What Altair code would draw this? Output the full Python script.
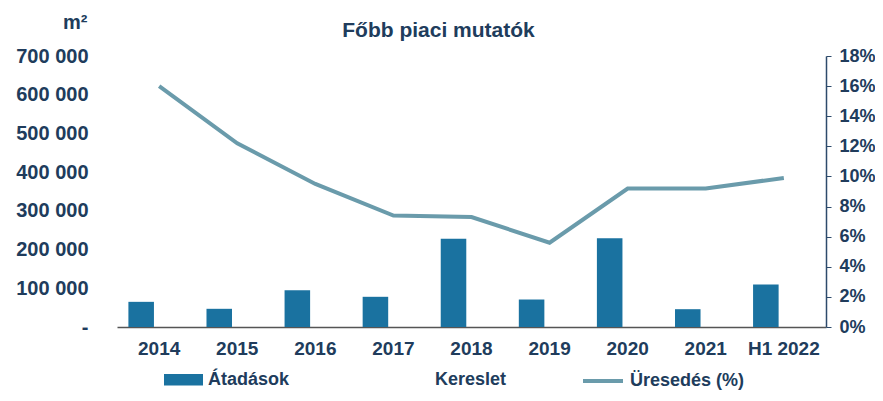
import altair as alt
import pandas as pd

years = ["2014", "2015", "2016", "2017", "2018", "2019", "2020", "2021", "H1 2022"]
atadasok = [65000, 47000, 95000, 78000, 228000, 71000, 229000, 46000, 110000]
ureseds = [16.0, 12.2, 9.5, 7.4, 7.3, 5.6, 9.2, 9.2, 9.9]
series = ["Átadások", "Kereslet"]
line_name = "Üresedés (%)"

NAVY = "#203c5c"
BAR = "#1a72a0"
LINE = "#6a9bab"
FONT = "Liberation Sans"

bar_rows = []
for y, v in zip(years, atadasok):
    bar_rows.append({"year": y, "series": "Átadások", "value": v})
    bar_rows.append({"year": y, "series": "Kereslet", "value": None})
bar_df = pd.DataFrame(bar_rows)
line_df = pd.DataFrame({"year": years, "vac": ureseds, "name": line_name})

x_enc = alt.X(
    "year:N",
    sort=years,
    scale=alt.Scale(paddingInner=0, paddingOuter=0.04),
    axis=alt.Axis(
        title=None, labelAngle=0, ticks=False, domain=True,
        domainColor="#555555", domainWidth=1.5,
        labelFont=FONT, labelFontSize=19, labelFontWeight="bold",
        labelColor=NAVY, labelPadding=12,
    ),
)

bars = alt.Chart(bar_df).mark_bar().encode(
    x=x_enc,
    xOffset=alt.XOffset(
        "series:N",
        scale=alt.Scale(domain=series, paddingInner=0.29, paddingOuter=0.23),
    ),
    y=alt.Y(
        "value:Q",
        scale=alt.Scale(domain=[0, 700000]),
        axis=alt.Axis(
            orient="left", values=[0, 100000, 200000, 300000, 400000, 500000, 600000, 700000],
            grid=False, ticks=False, domain=False,
            labelFont=FONT, labelFontSize=20, labelFontWeight="bold",
            labelColor=NAVY, labelPadding=29,
            labelExpr="datum.value == 0 ? '-\u00a0\u00a0\u00a0' : replace(format(datum.value, ','), regexp(',', 'g'), ' ')",
            title="m²", titleAngle=0, titleAlign="right", titleBaseline="bottom",
            titleX=-30, titleY=-24, titleFont=FONT, titleFontSize=20,
            titleFontWeight="bold", titleColor=NAVY,
        ),
    ),
    color=alt.Color(
        "series:N",
        scale=alt.Scale(domain=series, range=[BAR, "#ffffff"]),
        legend=alt.Legend(
            title=None, orient="none", legendX=47, legendY=304,
            direction="horizontal",
            symbolType="M-1,-0.3L1,-0.3L1,0.3L-1,0.3Z", symbolSize=1521,
            symbolStrokeWidth=0, labelOffset=5, columnPadding=101,
            labelFont=FONT, labelFontSize=18, labelFontWeight="bold",
            labelColor=NAVY,
        ),
    ),
)

line = alt.Chart(line_df).mark_line(strokeWidth=4).encode(
    x=alt.X("year:N", sort=years),
    y=alt.Y(
        "vac:Q",
        scale=alt.Scale(domain=[0, 18]),
        axis=alt.Axis(
            orient="right", values=[0, 2, 4, 6, 8, 10, 12, 14, 16, 18],
            grid=False, ticks=True, tickSize=5, tickColor="#2d4a6b",
            domain=True, domainColor="#2d4a6b", domainWidth=1.5,
            labelFont=FONT, labelFontSize=18, labelFontWeight="bold",
            labelColor=NAVY, labelPadding=8,
            labelExpr="datum.value + '%'", title=None,
        ),
    ),
    stroke=alt.Stroke(
        "name:N",
        scale=alt.Scale(domain=[line_name], range=[LINE]),
        legend=alt.Legend(
            title=None, orient="none", legendX=464, legendY=303,
            symbolType="stroke", symbolSize=1600, symbolStrokeWidth=4,
            labelOffset=5,
            labelFont=FONT, labelFontSize=18, labelFontWeight="bold",
            labelColor=NAVY,
        ),
    ),
)

chart = (
    alt.layer(bars, line)
    .resolve_scale(y="independent", color="independent", stroke="independent")
    .properties(
        width=709,
        height=271,
        autosize=alt.AutoSizeParams(type="none"),
        padding={"left": 109, "top": 48, "right": 49, "bottom": 64},
        title=alt.TitleParams(
            "Főbb piaci mutatók", font=FONT, fontSize=21, fontWeight="bold",
            color=NAVY, anchor="middle", dx=-33, offset=-29, frame="group",
        ),
    )
    .configure_view(stroke=None)
)

chart.save("out.html", embed_options={"renderer": "svg", "actions": False})
